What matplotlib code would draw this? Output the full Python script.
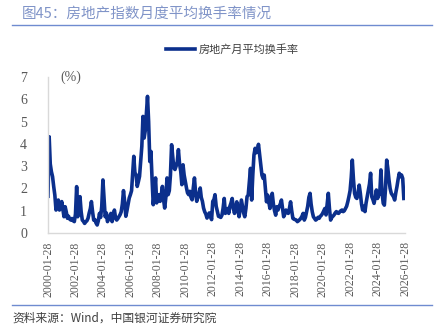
import numpy as np
import pandas as pd
import matplotlib
matplotlib.use("Agg")
import matplotlib.pyplot as plt
import matplotlib.dates as mdates

plt.rcParams['font.family'] = ['Noto Sans CJK SC', 'DejaVu Sans']

# =========================================================
# DATI (mensili, 2000-01 .. 2025-12)
# =========================================================
title_text = "图45：房地产指数月度平均换手率情况"
series_name = "房地产月平均换手率"
source_text = "资料来源：Wind，中国银河证券研究院"

turnover = [
    1.65, 4.32, 3.10, 2.75, 2.53, 2.08, 1.70, 1.03, 1.25, 1.48, 1.03, 1.20,  # 2000
    1.41, 1.05, 0.73, 1.18, 0.95, 0.66, 0.75, 0.62, 0.58, 0.65, 0.55, 0.51,  # 2001
    0.85, 2.08, 0.73, 1.10, 1.63, 0.95, 0.58, 0.52, 0.43, 0.50, 0.55, 0.66,  # 2002
    0.90, 1.10, 1.41, 0.95, 0.58, 0.60, 0.45, 0.36, 0.55, 0.88, 0.70, 1.20,  # 2003
    2.38, 1.50, 0.73, 0.90, 0.51, 0.65, 0.75, 0.88, 0.51, 0.75, 1.03, 0.70,  # 2004
    0.58, 0.65, 0.73, 0.82, 0.95, 1.30, 1.90, 1.40, 0.75, 1.00, 1.30, 1.57,  # 2005
    1.72, 1.90, 2.60, 3.44, 2.70, 2.62, 2.09, 2.30, 2.54, 3.20, 3.89, 5.23,  # 2006
    4.26, 4.60, 5.30, 6.13, 5.00, 3.21, 3.66, 2.40, 1.27, 1.80, 2.47, 1.35,  # 2007
    1.60, 1.72, 1.42, 1.70, 2.09, 1.50, 1.12, 1.60, 2.47, 1.72, 1.90, 2.60,  # 2008
    3.96, 3.40, 2.92, 2.85, 3.00, 3.20, 3.74, 3.10, 2.77, 2.17, 3.06, 2.60,  # 2009
    2.30, 2.02, 1.80, 1.72, 1.87, 1.60, 1.49, 2.02, 2.47, 1.80, 1.42, 1.60,  # 2010
    1.80, 2.02, 1.60, 1.42, 1.12, 0.95, 0.85, 0.67, 0.80, 0.90, 0.75, 0.60,  # 2011
    1.42, 1.50, 1.72, 1.20, 0.97, 0.75, 0.73, 0.70, 0.80, 1.10, 1.55, 0.88,  # 2012
    1.00, 1.10, 0.88, 1.20, 1.35, 1.55, 1.10, 0.88, 1.10, 1.40, 1.00, 0.73,  # 2013
    1.10, 1.48, 1.20, 0.90, 0.73, 1.10, 1.63, 1.70, 2.30, 2.90, 1.48, 2.60,  # 2014
    3.50, 3.80, 3.60, 3.70, 3.98, 3.50, 3.00, 2.60, 2.45, 2.60, 2.00, 1.40,  # 2015
    1.70, 1.40, 1.10, 1.40, 1.78, 1.30, 1.00, 0.80, 1.18, 1.03, 1.20, 1.30,  # 2016
    1.48, 1.10, 0.73, 0.85, 1.03, 0.95, 0.88, 1.10, 1.40, 1.00, 0.66, 0.62,  # 2017
    0.60, 0.58, 0.51, 0.55, 0.60, 0.66, 0.75, 0.88, 0.58, 0.70, 0.95, 1.20,  # 2018
    1.60, 1.78, 1.30, 0.95, 0.73, 0.65, 0.58, 0.62, 0.70, 0.66, 0.75, 0.80,  # 2019
    0.88, 1.00, 1.10, 0.81, 1.30, 1.78, 1.10, 0.58, 0.70, 0.75, 0.81, 0.90,  # 2020
    0.96, 0.90, 0.88, 0.95, 1.00, 1.03, 0.96, 1.00, 1.10, 1.20, 1.40, 1.63,  # 2021
    1.90, 2.50, 3.27, 2.40, 1.78, 1.60, 1.55, 1.80, 2.15, 1.78, 1.30, 1.03,  # 2022
    1.20, 0.96, 1.33, 1.63, 1.90, 2.20, 2.68, 1.63, 1.50, 1.33, 1.60, 1.93,  # 2023
    1.55, 1.70, 1.78, 2.83, 1.80, 1.33, 1.25, 2.00, 3.27, 2.90, 2.38, 2.00,  # 2024
    1.78, 1.70, 1.63, 1.48, 1.80, 2.08, 2.40, 2.68, 2.53, 2.60, 2.45, 1.55,  # 2025
]
dates = pd.date_range("2000-01-28", periods=len(turnover), freq=pd.DateOffset(months=1))
tick_years = list(range(2000, 2027, 2))
tick_labels = [f"{y}-01-28" for y in tick_years]
y_ticks = [0, 1, 2, 3, 4, 5, 6, 7]

# =========================================================
# FIGURA
# =========================================================
LINE_COL = '#0b2f8c'
BAND_COL = '#8094c8'
GRAY = '#595959'

fig = plt.figure(figsize=(4.38, 3.26), dpi=100)
ax = fig.add_axes([48/438, 1-233/326, (405-48)/438, (233-77)/326])

ax.plot(dates, turnover, color=LINE_COL, linewidth=2.6, solid_joinstyle='round', label=series_name)

ax.set_ylim(0, 7)
ax.set_yticks(y_ticks)
ax.set_xlim(pd.Timestamp("2000-01-28"), pd.Timestamp("2026-01-28"))
ticks = [pd.Timestamp(t) for t in tick_labels]
ax.set_xticks(ticks)
ax.set_xticklabels(tick_labels, rotation=90, family='Liberation Serif', fontsize=8.5, color=GRAY)
for lab in ax.get_yticklabels():
    lab.set_family('Liberation Serif')
    lab.set_fontsize(10)
    lab.set_color(GRAY)
ax.tick_params(length=0, pad=6)
ax.tick_params(axis='y', pad=15)

for s in ['top', 'right']:
    ax.spines[s].set_visible(False)
for s in ['left', 'bottom']:
    ax.spines[s].set_color('#d9d9d9')
    ax.spines[s].set_linewidth(1.0)

ax.text(0.035, 1.0, "(%)", transform=ax.transAxes, family='Liberation Serif',
        fontsize=10, color=GRAY, va='center', ha='left')

leg = fig.legend(loc='center', bbox_to_anchor=(0.53, 1-49/326), frameon=False,
                 fontsize=8, handlelength=2.6, handletextpad=0.3)
for t in leg.get_texts():
    t.set_color('#404040')

# titolo e fasce
fig.text(22/438, 1-14/326, title_text, fontsize=10.5, color=BAND_COL, va='center', ha='left')
fig.add_artist(plt.Line2D([12/438, 432/438], [1-25/326, 1-25/326], color='#6f8bd0', linewidth=1.0))
fig.add_artist(plt.Line2D([12/438, 432/438], [1-305/326, 1-305/326], color='#6f8bd0', linewidth=1.0))
fig.text(12/438, 1-318/326, source_text, fontsize=8.5, color='#404040', va='center', ha='left',
         style='italic')

fig.savefig("out.png", dpi=100)
